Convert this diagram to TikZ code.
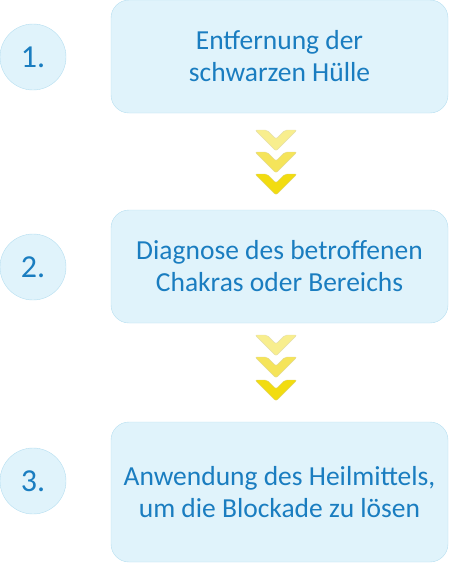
\documentclass[tikz,border=0pt]{standalone}
\usepackage{fontspec}
\setmainfont{Carlito}
\definecolor{txtblue}{HTML}{1A7DC0}
\definecolor{boxfill}{HTML}{E0F3FB}
\definecolor{boxline}{HTML}{B4DEF0}
\definecolor{chevA}{HTML}{F8EE8E}
\definecolor{chevB}{HTML}{F5E45A}
\definecolor{chevC}{HTML}{F2DC10}
\begin{document}
\begin{tikzpicture}[x=1pt,y=-1pt,
  stepbox/.style={draw=boxline,fill=boxfill,rounded corners=18pt,minimum width=337pt,minimum height=113pt,
    text=txtblue,align=center,font=\fontsize{27.5}{32}\selectfont,inner sep=0pt},
  numcircle/.style={circle,draw=boxline,fill=boxfill,minimum size=66pt,inner sep=0pt,text=txtblue,
    font=\fontsize{32}{36}\selectfont},
  chev/.style={rounded corners=2pt,draw=#1!85!black!60!white,fill=#1,line width=0.4pt}
]
\useasboundingbox (0,0) rectangle (450,563);
\node[stepbox] (b1) at (279.5,56.5) {Entfernung der\\schwarzen Hülle};
\node[stepbox] (b2) at (279.5,266.5) {Diagnose des betroffenen\\Chakras oder Bereichs};
\node[stepbox,minimum height=140pt] (b3) at (279.5,492) {Anwendung des Heilmittels,\\um die Blockade zu lösen};
\node[numcircle] (c1) at (33,57) {1.};
\node[numcircle] (c2) at (33,267) {2.};
\node[numcircle] (c3) at (33,481) {3.};
\def\chevron#1#2#3{%
  \fill[chev=#3] (#1-21,#2-10) -- (#1-9,#2-10) -- (#1,#2-1) -- (#1+9,#2-10) -- (#1+21,#2-10) -- (#1,#2+11) -- cycle;}
\chevron{276}{140}{chevA}
\chevron{276}{162}{chevB}
\chevron{276}{184}{chevC}
\chevron{276}{345}{chevA}
\chevron{276}{367}{chevB}
\chevron{276}{390}{chevC}
\end{tikzpicture}
\end{document}
